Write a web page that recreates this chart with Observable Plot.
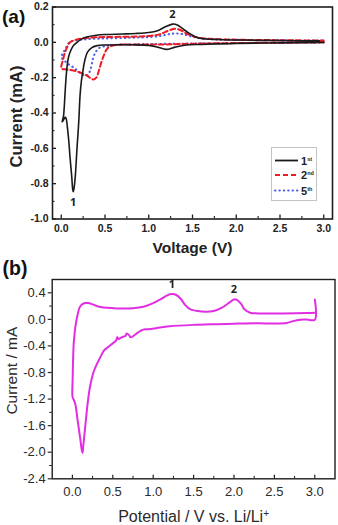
<!DOCTYPE html>
<html><head><meta charset="utf-8">
<script src="https://cdn.jsdelivr.net/npm/d3@7"></script>
<script src="https://cdn.jsdelivr.net/npm/@observablehq/plot@0.6"></script>
<style>
html,body{margin:0;padding:0;background:#fff;}
#wrap{position:relative;width:338px;height:525px;overflow:hidden;}
#pa,#pb{position:absolute;left:0;}
#pa{top:0}
#pb{top:260px}
#legend{position:absolute;left:271px;top:147px;}
svg{display:block}
</style></head><body>
<div id="wrap"><div id="pa"></div><div id="pb"></div><div id="legend"></div></div>
<script>
// ---------- Panel (a) data: CV cycles (V, mA) in scan order ----------
const a1V = [3.0,2.5,2.0,1.6,1.43,1.3,1.2,1.1,1.0,0.8,0.5,0.4,0.35,0.3,0.27,0.245,0.23,0.215,0.2,0.18,0.16,0.145,0.137,0.13,0.12,0.1,0.088,0.07,0.055,0.045,0.025,0.01,
             0.025,0.035,0.042,0.055,0.068,0.085,0.11,0.14,0.18,0.23,0.29,0.4,0.5,0.7,0.85,1.0,1.1,1.18,1.27,1.32,1.38,1.45,1.52,1.6,1.8,2.0,2.5,2.95];
const a1I = [0.0,-0.003,-0.006,-0.012,-0.015,-0.027,-0.04,-0.027,-0.017,-0.014,-0.015,-0.02,-0.03,-0.055,-0.1,-0.17,-0.22,-0.3,-0.45,-0.6,-0.76,-0.83,-0.845,-0.83,-0.76,-0.65,-0.57,-0.48,-0.43,-0.425,-0.44,-0.45,
             -0.42,-0.36,-0.3,-0.2,-0.13,-0.08,-0.045,-0.018,0.0,0.018,0.03,0.04,0.044,0.047,0.05,0.056,0.066,0.085,0.103,0.1,0.08,0.055,0.035,0.022,0.016,0.013,0.01,0.008];
const a2V = [3.0,2.5,2.0,1.5,1.2,1.0,0.8,0.65,0.56,0.52,0.49,0.46,0.43,0.4,0.37,0.34,0.3,0.26,0.2,0.14,0.08,0.04,0.01,
             0.0,0.02,0.04,0.065,0.1,0.15,0.22,0.35,0.5,0.8,1.0,1.12,1.22,1.3,1.36,1.45,1.55,1.7,2.0,2.5,3.0];
const a2I = [0.0,-0.002,-0.004,-0.008,-0.012,-0.012,-0.013,-0.014,-0.022,-0.04,-0.07,-0.11,-0.16,-0.2,-0.21,-0.205,-0.19,-0.18,-0.168,-0.16,-0.155,-0.152,-0.15,
             -0.14,-0.1,-0.06,-0.03,0.0,0.012,0.021,0.027,0.03,0.032,0.036,0.045,0.065,0.077,0.07,0.045,0.028,0.02,0.015,0.012,0.01];
const a5V = [3.0,2.5,2.0,1.5,1.0,0.7,0.55,0.5,0.44,0.4,0.37,0.35,0.33,0.3,0.27,0.22,0.15,0.1,0.05,0.02,0.0,
             0.02,0.045,0.07,0.09,0.13,0.18,0.3,0.5,0.8,1.0,1.15,1.25,1.32,1.4,1.5,1.6,1.8,2.0,2.5,3.0];
const a5I = [0.0,-0.002,-0.004,-0.007,-0.01,-0.012,-0.018,-0.022,-0.03,-0.05,-0.08,-0.12,-0.16,-0.185,-0.19,-0.175,-0.145,-0.13,-0.11,-0.095,-0.085,
             -0.06,-0.04,-0.015,-0.002,0.008,0.012,0.018,0.022,0.026,0.03,0.038,0.048,0.05,0.045,0.032,0.022,0.016,0.014,0.011,0.01];
const aSeries = ["1st","2nd","5th"];
const aLegendNum = ["1","2","5"];
const aLegendSup = ["st","nd","th"];
const aPeakV = [0.137, 1.27];
const aPeakI = [-0.845, 0.103];
const aPeakLabel = ["1","2"];
const aXMajor = [0,0.5,1.0,1.5,2.0,2.5,3.0];
const aXMinor = [0.25,0.75,1.25,1.75,2.25,2.75];
const aYMajor = [-1.0,-0.8,-0.6,-0.4,-0.2,0.0,0.2];
const aYMinor = [-0.9,-0.7,-0.5,-0.3,-0.1,0.1];

// ---------- Panel (b) data ----------
const bV = [3.0,3.0,2.9,2.82,2.72,2.65,2.5,2.3,2.0,1.8,1.5,1.2,1.05,0.97,0.9,0.86,0.81,0.76,0.72,0.70,0.67,0.655,0.61,0.57,0.555,0.54,0.51,0.45,0.39,0.35,0.3,0.26,0.22,0.19,0.17,0.15,0.135,0.125,0.11,0.1,0.08,0.066,0.05,0.037,0.02,0.008,0.0,
            0.003,0.008,0.016,0.03,0.045,0.066,0.09,0.12,0.16,0.2,0.25,0.35,0.55,0.75,0.88,1.0,1.1,1.18,1.23,1.28,1.34,1.4,1.46,1.55,1.65,1.75,1.85,1.95,2.0,2.04,2.09,2.13,2.2,2.3,2.6,2.9,3.0];
const bI = [0.3,-0.005,-0.003,-0.005,-0.03,-0.055,-0.063,-0.058,-0.065,-0.072,-0.083,-0.105,-0.13,-0.145,-0.15,-0.163,-0.2,-0.245,-0.27,-0.235,-0.215,-0.25,-0.27,-0.295,-0.27,-0.32,-0.35,-0.41,-0.47,-0.56,-0.68,-0.8,-1.0,-1.25,-1.48,-1.72,-1.9,-2.01,-1.92,-1.82,-1.65,-1.53,-1.38,-1.28,-1.22,-1.19,-1.15,
            -0.9,-0.63,-0.37,-0.18,-0.05,0.08,0.18,0.225,0.245,0.245,0.225,0.185,0.165,0.168,0.19,0.245,0.31,0.365,0.38,0.37,0.31,0.21,0.15,0.125,0.115,0.125,0.175,0.26,0.3,0.29,0.23,0.15,0.1,0.09,0.09,0.095,0.10];
const bPeakV = [1.23, 2.0];
const bPeakI = [0.38, 0.30];
const bPeakLabel = ["1","2"];
const bXMajor = [0,0.5,1.0,1.5,2.0,2.5,3.0];
const bXMinor = [0.25,0.75,1.25,1.75,2.25,2.75];
const bYMajor = [-2.4,-2.0,-1.6,-1.2,-0.8,-0.4,0.0,0.4];
const bYMinor = [-2.2,-1.8,-1.4,-1.0,-0.6,-0.2,0.2];

// ---------- helpers ----------
const FONT = "'Liberation Sans', Arial, sans-serif";
const rows = (V, I) => V.map((v, k) => ({v, i: I[k]}));
const peaks = (V, I, L) => V.map((v, k) => ({v, i: I[k], t: L[k]}));
const fmt = d => d.toFixed(1);
const INK = "#1e1e1e";
const COLORS = ["#1a1a1a", "#ee1c24", "#4d5de6"];
const DASH = [null, "5,3", "0.4,4"];
const PEAKFONT = "'Open Sans', sans-serif";

// ---------- Panel (a) ----------
const W = 338;
const HA = 258, mA = {t: 6.5, r: 6, b: 39.5, l: 52};
const ihA = HA - mA.t - mA.b, iwA = W - mA.l - mA.r;
const aPeaks = peaks(aPeakV, aPeakI, aPeakLabel);
const plotA = Plot.plot({
  width: W, height: HA,
  marginTop: mA.t, marginRight: mA.r, marginBottom: mA.b, marginLeft: mA.l,
  x: {domain: [-0.1, 3.1], label: null},
  y: {domain: [-1.0, 0.2], label: null},
  style: {fontFamily: FONT, overflow: "visible", background: "transparent"},
  marks: [
    Plot.line(rows(a5V, a5I), {x: "v", y: "i", stroke: COLORS[2], strokeWidth: 2.1, strokeDasharray: DASH[2], strokeLinecap: "round", curve: "catmull-rom"}),
    Plot.line(rows(a2V, a2I), {x: "v", y: "i", stroke: COLORS[1], strokeWidth: 2, strokeDasharray: DASH[1], curve: "catmull-rom"}),
    Plot.line(rows(a1V, a1I), {x: "v", y: "i", stroke: COLORS[0], strokeWidth: 1.6, curve: "catmull-rom"}),
    Plot.tickX(aXMajor, {x: d => d, stroke: INK, strokeWidth: 1.3, insetTop: ihA - 4}),
    Plot.tickX(aXMinor, {x: d => d, stroke: INK, strokeWidth: 1.1, insetTop: ihA - 2.5}),
    Plot.tickY(aYMajor, {y: d => d, stroke: INK, strokeWidth: 1.3, insetRight: iwA - 4}),
    Plot.tickY(aYMinor, {y: d => d, stroke: INK, strokeWidth: 1.1, insetRight: iwA - 2.5}),
    Plot.frame({stroke: INK, strokeWidth: 1.6}),
    Plot.axisX(aXMajor, {tickSize: 0, tickPadding: 6, tickFormat: fmt, fontSize: 10.5, fontWeight: "bold", color: "#222", label: null}),
    Plot.axisY(aYMajor, {tickSize: 0, tickPadding: 4, tickFormat: fmt, fontSize: 10.5, fontWeight: "bold", color: "#222", label: null}),
    Plot.text(aPeaks.filter(d => d.i < 0), {x: "v", y: "i", text: "t", dy: 11, fontSize: 11, fontWeight: "bold", fill: "#222", fontFamily: PEAKFONT}),
    Plot.text(aPeaks.filter(d => d.i >= 0), {x: "v", y: "i", text: "t", dy: -9.5, fontSize: 11, fontWeight: "bold", fill: "#222", fontFamily: PEAKFONT}),
    Plot.text(["Voltage (V)"], {frameAnchor: "bottom", dy: 29.5, lineAnchor: "middle", fontSize: 15.5, fontWeight: "bold", fill: "#222"}),
    Plot.text(["Current (mA)"], {frameAnchor: "left", dx: -36, dy: 3.5, rotate: -90, lineAnchor: "middle", textAnchor: "middle", fontSize: 16.5, fontWeight: "bold", fill: "#222"}),
    Plot.text(["(a)"], {frameAnchor: "top-left", dx: -50.5, dy: 9.5, lineAnchor: "middle", textAnchor: "start", fontSize: 19, fontWeight: "bold", fill: "#111"})
  ]
});
document.getElementById("pa").appendChild(plotA);

// legend for (a)
(function () {
  const lw = 46, lh = 54;
  const svg = d3.select("#legend").append("svg").attr("width", lw).attr("height", lh);
  svg.append("rect").attr("x", 0.5).attr("y", 0.5).attr("width", lw - 1).attr("height", lh - 1)
    .attr("fill", "#fff").attr("stroke", "#c4c4c4").attr("stroke-width", 1);
  const rowY = [13.5, 28, 43.5];
  aSeries.forEach((s, k) => {
    const ln = svg.append("line").attr("x1", 4).attr("x2", 27).attr("y1", rowY[k]).attr("y2", rowY[k])
      .attr("stroke", COLORS[k]).attr("stroke-width", k === 0 ? 1.8 : 2.1);
    if (DASH[k]) ln.attr("stroke-dasharray", DASH[k]);
    if (k === 2) ln.attr("stroke-linecap", "round");
    const t = svg.append("text").attr("x", 30).attr("y", rowY[k] + 4).attr("font-family", FONT)
      .attr("font-weight", "bold").attr("font-size", 11).attr("fill", "#222");
    t.append("tspan").text(aLegendNum[k]);
    t.append("tspan").attr("dy", -4).attr("font-size", 5.5).text(aLegendSup[k]);
  });
})();

// ---------- Panel (b) ----------
const HB = 265, mB = {t: 19, r: 3.5, b: 46.7, l: 51.7};
const ihB = HB - mB.t - mB.b;
const MAG = "#e22ee2";
const plotB = Plot.plot({
  width: W, height: HB,
  marginTop: mB.t, marginRight: mB.r, marginBottom: mB.b, marginLeft: mB.l,
  x: {domain: [-0.25, 3.25], label: null},
  y: {domain: [-2.4, 0.6], label: null},
  style: {fontFamily: FONT, overflow: "visible", background: "transparent"},
  marks: [
    Plot.line(rows(bV, bI), {x: "v", y: "i", stroke: MAG, strokeWidth: 2, curve: "catmull-rom"}),
    Plot.tickX(bXMajor, {x: d => d, stroke: INK, strokeWidth: 1.2, insetTop: ihB - 3.5}),
    Plot.tickX(bXMinor, {x: d => d, stroke: INK, strokeWidth: 1, insetTop: ihB - 2.5}),
    Plot.frame({stroke: INK, strokeWidth: 1.4}),
    Plot.axisY(bYMinor, {tickSize: 2.5, tickFormat: () => "", strokeWidth: 1, color: INK, label: null}),
    Plot.axisY(bYMajor, {tickSize: 4, tickPadding: 2.5, tickFormat: fmt, fontSize: 13, strokeWidth: 1.2, color: "#2a2a2a", label: null}),
    Plot.axisX(bXMajor, {tickSize: 0, tickPadding: 8, tickFormat: fmt, fontSize: 13, color: "#2a2a2a", label: null}),
    Plot.text(peaks(bPeakV, bPeakI, bPeakLabel), {x: "v", y: "i", text: "t", dy: -10, fontSize: 11, fontWeight: "bold", fill: "#222", fontFamily: PEAKFONT}),
    Plot.text(["Potential / V vs. Li/Li+"], {frameAnchor: "bottom", dy: 37.7, lineAnchor: "middle", fontSize: 16, fill: "#2a2a2a"}),
    Plot.text(["Current / mA"], {frameAnchor: "left", dx: -39.7, dy: -8.5, rotate: -90, lineAnchor: "middle", textAnchor: "middle", fontSize: 15.5, fill: "#2a2a2a"}),
    Plot.text(["(b)"], {frameAnchor: "top-left", dx: -49.7, dy: -11, lineAnchor: "middle", textAnchor: "start", fontSize: 19.5, fontWeight: "bold", fill: "#111"})
  ]
});
document.getElementById("pb").appendChild(plotB);
// superscript + in Li/Li+
d3.select(plotB).selectAll("text").each(function () {
  const el = d3.select(this);
  if (el.text() === "Potential / V vs. Li/Li+") {
    el.text("Potential / V vs. Li/Li");
    el.append("tspan").attr("dy", "-0.45em").attr("font-size", 10).text("+");
  }
});
</script>
</body></html>
